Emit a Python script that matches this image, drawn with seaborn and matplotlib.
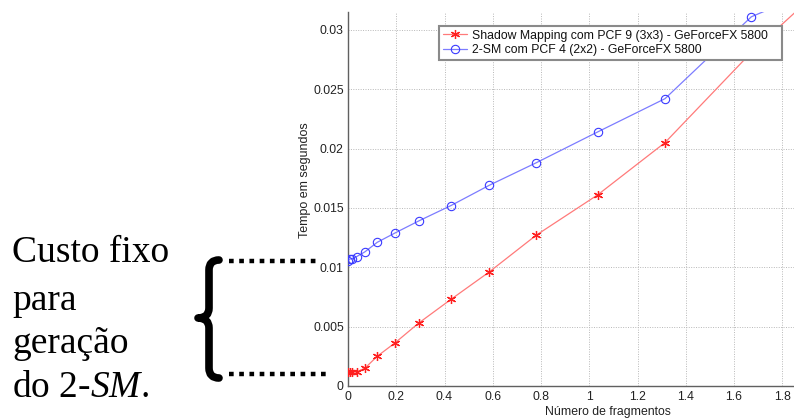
import matplotlib
matplotlib.use("Agg")
import matplotlib.pyplot as plt
import matplotlib.ticker as mticker
from matplotlib.path import Path
from matplotlib.patches import PathPatch
import seaborn as sns
import pandas as pd

# Données
fragments = [0.0, 0.008, 0.015, 0.036, 0.070, 0.121, 0.196, 0.293, 0.427, 0.585, 0.780, 1.035, 1.314, 1.672, 2.07]
tempo_sm_pcf9 = [0.00121, 0.0012, 0.0012, 0.0012, 0.0015, 0.0025, 0.00365, 0.0053, 0.0073, 0.0096, 0.0127, 0.0161, 0.0205, 0.0281, 0.0355]
tempo_2sm_pcf4 = [0.01056, 0.0107, 0.0107, 0.0109, 0.0113, 0.0121, 0.0129, 0.0139, 0.0152, 0.0169, 0.0188, 0.0214, 0.0242, 0.0311, 0.0345]

label_sm = "Shadow Mapping com PCF 9 (3x3) - GeForceFX 5800"
label_2sm = "2-SM com PCF 4 (2x2) - GeForceFX 5800"
texto_lado = ["Custo fixo", "para", "geração"]

W, H = 794, 418

sns.set_theme(style="white")
plt.rcParams["font.family"] = ["Liberation Sans", "DejaVu Sans"]
plt.rcParams["mathtext.fontset"] = "custom"
plt.rcParams["mathtext.rm"] = "Liberation Serif"
plt.rcParams["mathtext.it"] = "Liberation Serif:italic"

fig = plt.figure(figsize=(W / 100, H / 100), dpi=100)
fig.patch.set_facecolor("white")


def px(x, y):
    return (x / W, 1 - y / H)


ax_l, ax_r, ax_t, ax_b = 348, 794, 12, 386
ax = fig.add_axes([ax_l / W, 1 - ax_b / H, (ax_r - ax_l) / W, (ax_b - ax_t) / H])
ax.set_facecolor("white")

df_sm = pd.DataFrame({"x": fragments, "y": tempo_sm_pcf9})
df_2sm = pd.DataFrame({"x": fragments, "y": tempo_2sm_pcf4})

asterisk = (6, 2, 0)
sns.lineplot(data=df_sm, x="x", y="y", ax=ax, sort=False, estimator=None,
             color="#ff7a7a", lw=0.9, marker=asterisk, ms=6.5, mec="#ff2020", mew=0.9,
             label=label_sm, zorder=3)
sns.lineplot(data=df_2sm, x="x", y="y", ax=ax, sort=False, estimator=None,
             color="#7c7cff", lw=0.9, marker="o", ms=6, mfc="none", mec="#3a3aff", mew=0.8,
             label=label_2sm, zorder=3)

ax.set_xlim(0, (ax_r - ax_l) / 241.25)
ax.set_ylim(0, 0.0315)
ax.xaxis.set_major_locator(mticker.MultipleLocator(0.2))
ax.yaxis.set_major_locator(mticker.MultipleLocator(0.005))
ax.xaxis.set_major_formatter(mticker.FuncFormatter(lambda v, p: "%g" % round(v, 4)))
ax.yaxis.set_major_formatter(mticker.FuncFormatter(lambda v, p: "%g" % round(v, 5)))

ax.grid(True, color="#b8b8b8", linestyle=(0, (1, 1.5)), linewidth=0.7)
for s in ["top", "right"]:
    ax.spines[s].set_visible(False)
for s in ["left", "bottom"]:
    ax.spines[s].set_color("#606060")
    ax.spines[s].set_linewidth(1.0)
ax.tick_params(direction="in", length=3, width=0.8, color="#606060",
               labelsize=8.8, labelcolor="#222222")
ax.tick_params(axis="x", pad=3.5)
ax.tick_params(axis="y", pad=3)

ax.set_xlabel("Número de fragmentos", fontsize=8.8, color="#222222")
ax.set_ylabel("Tempo em segundos", fontsize=9, color="#222222")
ax.xaxis.set_label_coords((608 - ax_l) / (ax_r - ax_l), (ax_b - 405.5) / (ax_b - ax_t))
ax.yaxis.set_label_coords((311 - ax_l) / (ax_r - ax_l), (ax_b - 180) / (ax_b - ax_t))

leg = ax.legend(loc="upper left", mode="expand",
                bbox_to_anchor=((439 - ax_l) / (ax_r - ax_l), (ax_b - 26) / (ax_b - ax_t),
                                (782 - 439) / (ax_r - ax_l), 0.0),
                borderaxespad=0, fontsize=8.8, frameon=True, fancybox=False,
                handlelength=2.0, handletextpad=0.4, labelspacing=0.2, borderpad=0.3)
leg.get_frame().set_edgecolor("#8a8a8a")
leg.get_frame().set_linewidth(1.5)
leg.get_frame().set_alpha(1)
leg.set_zorder(5)
for t in leg.get_texts():
    t.set_color("#111111")

# Texte à gauche
baselines = [262, 310, 353]
for txt, yb in zip(texto_lado, baselines):
    fig.text(*px(12, yb), txt, fontsize=27, family="Liberation Serif",
             va="baseline", ha="left", color="black")
fig.text(*px(12, 397), r"do 2-$\mathit{SM}$.", fontsize=27, family="Liberation Serif",
         va="baseline", ha="left", color="black")

# Accolade
verts = [px(219, 260), px(209, 260), px(209, 270), px(209, 308),
         px(209, 318), px(198, 318), px(209, 318), px(209, 328),
         px(209, 368), px(209, 378), px(219, 378)]
codes = [Path.MOVETO, Path.CURVE3, Path.CURVE3, Path.LINETO,
         Path.CURVE3, Path.CURVE3, Path.CURVE3, Path.CURVE3,
         Path.LINETO, Path.CURVE3, Path.CURVE3]
brace = PathPatch(Path(verts, codes), transform=fig.transFigure, fill=False,
                  lw=5.5, edgecolor="black", capstyle="round", joinstyle="round")
fig.add_artist(brace)

# Lignes pointillées
for (x0, x1, yy) in [(229, 317, 261), (229, 330, 373.5)]:
    (fx0, fy), (fx1, _) = px(x0, yy), px(x1, yy)
    fig.add_artist(plt.Line2D([fx0, fx1], [fy, fy], transform=fig.transFigure,
                              color="black", lw=3.2, linestyle=(0, (1.05, 1.25)),
                              solid_capstyle="butt", dash_capstyle="butt"))

fig.savefig("out.png", dpi=100, facecolor="white")
